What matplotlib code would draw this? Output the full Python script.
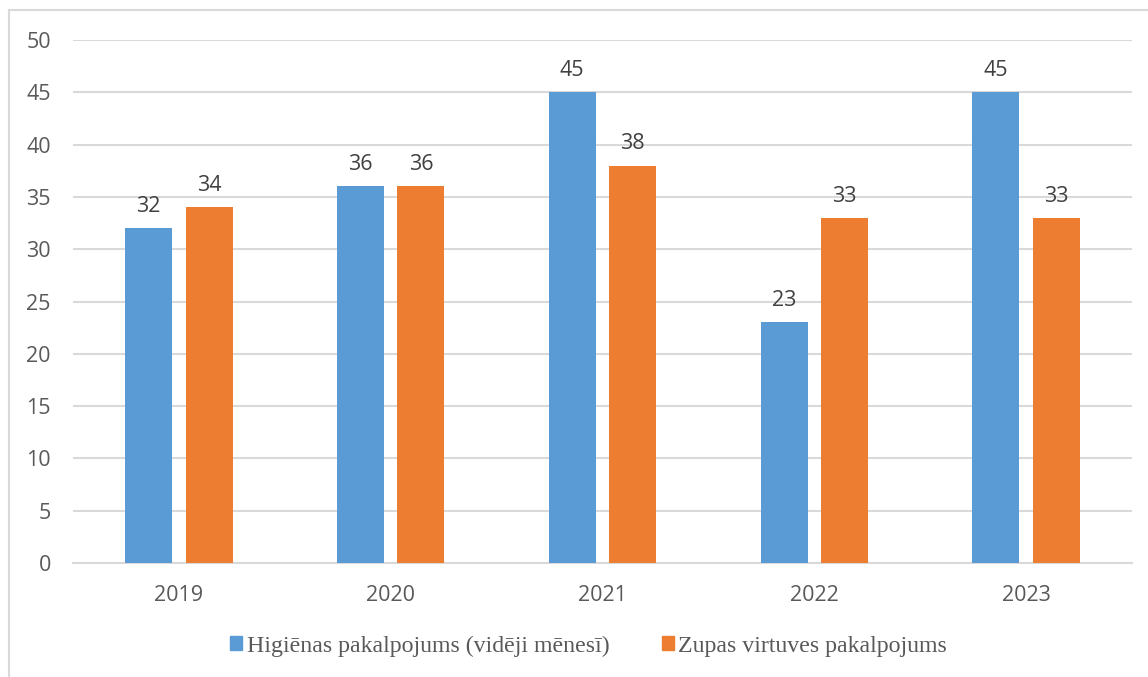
import matplotlib.pyplot as plt
import numpy as np
from matplotlib.lines import Line2D

years = ['2019', '2020', '2021', '2022', '2023']
higienas = [32, 36, 45, 23, 45]
zupas = [34, 36, 38, 33, 33]
series_names = ['Higiēnas pakalpojums (vidēji mēnesī)', 'Zupas virtuves pakalpojums']

blue = '#5B9BD5'
orange = '#ED7D31'
grid_col = '#D9D9D9'
txt_col = '#595959'

fig = plt.figure(figsize=(11.48, 6.77), dpi=100)
ax = fig.add_axes([73/1148, 1 - 563/677, (1132-73)/1148, (563-40)/677])

x = np.arange(len(years))
w = 0.222
off = 0.143
b1 = ax.bar(x - off, higienas, w, color=blue, zorder=3)
b2 = ax.bar(x + off, zupas, w, color=orange, zorder=3)

for bars in (b1, b2):
    for r in bars:
        ax.annotate(str(int(r.get_height())), (r.get_x() + r.get_width()/2, r.get_height()),
                    xytext=(0, 8), textcoords='offset points', ha='center', va='bottom',
                    fontsize=15.5, color='#404040', family='Open Sans')

ax.set_xlim(-0.5, len(years) - 0.5)
ax.set_ylim(0, 50)
ax.set_yticks(range(0, 51, 5))
ax.set_xticks(x)
ax.set_xticklabels(years)
ax.yaxis.grid(True, color=grid_col, linewidth=1.5, zorder=0)
for s in ['top', 'right', 'left']:
    ax.spines[s].set_visible(False)
ax.spines['bottom'].set_color(grid_col)
ax.spines['bottom'].set_linewidth(1.5)
ax.tick_params(axis='both', length=0, labelsize=15.5, labelcolor=txt_col)
ax.tick_params(axis='y', pad=16)
ax.tick_params(axis='x', pad=16)
for lab in ax.get_xticklabels() + ax.get_yticklabels():
    lab.set_family('Open Sans')

# outer chart frame (cropped at right/bottom)
fig.add_artist(Line2D([9/1148, 9/1148], [0, 1 - 10/677], transform=fig.transFigure, color=grid_col, lw=1.5))
fig.add_artist(Line2D([9/1148, 1], [1 - 10/677, 1 - 10/677], transform=fig.transFigure, color=grid_col, lw=1.5))

handles = [plt.Rectangle((0, 0), 1, 1, color=blue), plt.Rectangle((0, 0), 1, 1, color=orange)]
fig.legend(handles, series_names, loc='center', bbox_to_anchor=(588.5/1148, 1 - 646/677), ncol=2,
           frameon=False, prop={'family': 'Liberation Serif', 'size': 17.2}, labelcolor=txt_col,
           handlelength=0.5, handleheight=0.55, handletextpad=0.2, columnspacing=2.2,
           borderpad=0, borderaxespad=0)

fig.savefig('out.png', dpi=100)
